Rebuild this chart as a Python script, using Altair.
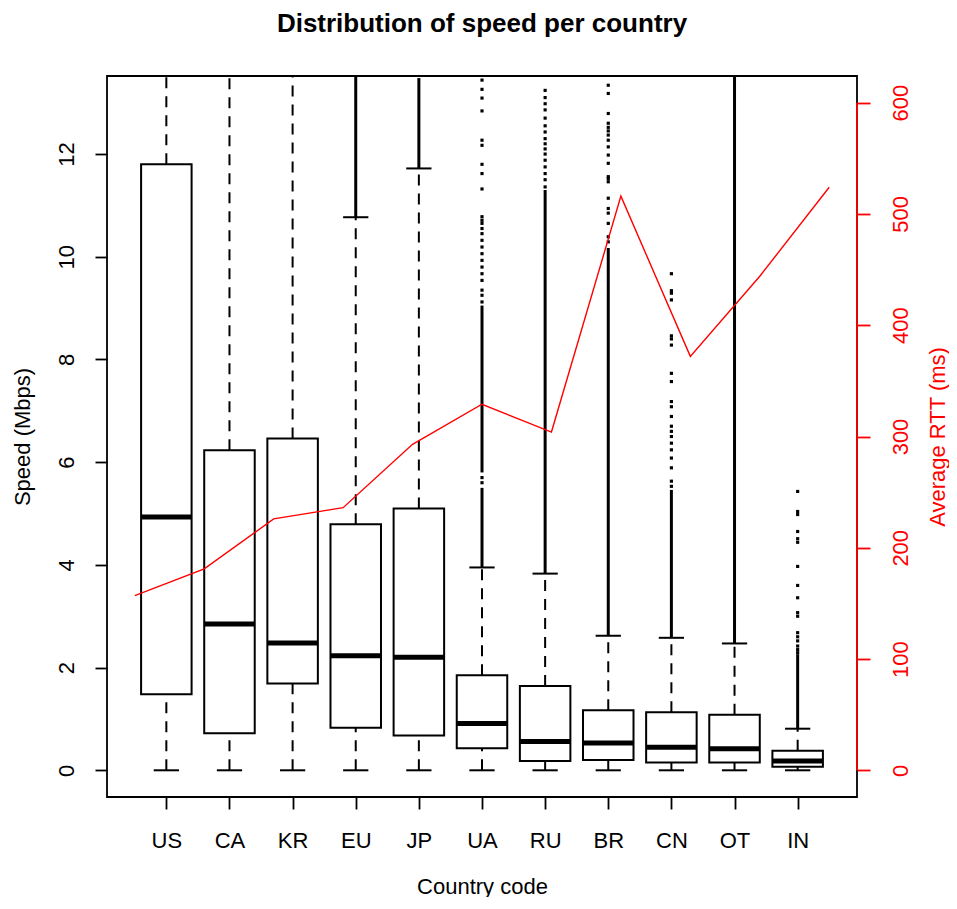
import json
import altair as alt
import pandas as pd

# ---------------- data ----------------
countries = ["US", "CA", "KR", "EU", "JP", "UA", "RU", "BR", "CN", "OT", "IN"]
whisker_low = [0, 0, 0, 0, 0, 0, 0, 0, 0, 0, 0]
q1 = [1.48, 0.72, 1.69, 0.83, 0.68, 0.43, 0.18, 0.20, 0.15, 0.15, 0.07]
median = [4.93, 2.85, 2.48, 2.23, 2.20, 0.91, 0.56, 0.53, 0.45, 0.42, 0.18]
q3 = [11.80, 6.23, 6.46, 4.79, 5.10, 1.85, 1.64, 1.17, 1.13, 1.08, 0.38]
whisker_high = [14.5, 14.5, 14.5, 10.77, 11.72, 3.95, 3.83, 2.62, 2.58, 2.47, 0.81]

rtt_ms = [157, 181, 226, 236, 293, 329, 304, 516, 372, 444, 524]

# dense runs of outliers (drawn as solid columns in the picture)
band_country = ["EU", "JP", "UA", "UA", "RU", "BR", "CN", "OT", "IN"]
band_from = [10.77, 11.72, 3.95, 5.80, 3.83, 2.62, 2.58, 2.47, 0.81]
band_to = [14.5, 13.48, 5.50, 9.05, 11.30, 10.17, 5.46, 14.5, 2.26]

# individual, separated outliers
out_UA = [5.60, 5.70, 9.12, 9.25, 9.35, 9.54, 9.67, 9.80, 9.93, 10.06, 10.19, 10.32,
          10.45, 10.55, 10.65, 10.71, 10.78, 11.32, 11.62, 11.80, 12.17, 12.27, 12.84,
          13.09, 13.26, 13.44]
out_RU = [11.36, 11.50, 11.62, 11.75, 11.88, 12.00, 12.10, 12.20, 12.30, 12.43, 12.55,
          12.70, 12.86, 12.98, 13.10, 13.24]
out_BR = [10.29, 10.39, 10.65, 10.85, 10.94, 11.14, 11.46, 11.52, 11.56, 11.82, 11.98,
          12.14, 12.27, 12.37, 12.45, 12.52, 12.60, 12.79, 13.18, 13.34]
out_CN = [9.67, 9.34, 9.29, 9.16, 8.46, 8.40, 8.28, 7.73, 7.57, 7.18, 7.08, 6.89, 6.70,
          6.60, 6.50, 6.37, 6.24, 6.08, 5.89, 5.63, 5.53]
out_IN = [5.43, 5.04, 4.98, 4.65, 4.51, 4.44, 3.97, 3.60, 3.36, 3.07, 3.00, 2.68, 2.60,
          2.52, 2.42, 2.35, 2.29]

speed_ticks = [0, 2, 4, 6, 8, 10, 12]
rtt_ticks = [0, 100, 200, 300, 400, 500, 600]

# ---------------- tables ----------------
positions = list(range(1, len(countries) + 1))
box_df = pd.DataFrame({"country": countries, "pos": positions, "low": whisker_low,
                       "q1": q1, "median": median, "q3": q3, "high": whisker_high})
band_df = pd.DataFrame({"country": band_country, "lo": band_from, "hi": band_to})
band_df["pos"] = band_df["country"].map(lambda c: countries.index(c) + 1)
out_rows = []
for c, vals in [("UA", out_UA), ("RU", out_RU), ("BR", out_BR), ("CN", out_CN), ("IN", out_IN)]:
    for v in vals:
        out_rows.append({"country": c, "pos": countries.index(c) + 1, "v": v})
out_df = pd.DataFrame(out_rows)
rtt_df = pd.DataFrame({"country": countries, "pos": positions, "rtt": rtt_ms})
raxis_df = pd.DataFrame({"lo": [rtt_ticks[0]], "hi": [rtt_ticks[-1]]})

FONT = "Liberation Sans"
W, H = 750, 721

xs = alt.Scale(domain=[0.06, 11.94], nice=False, zero=False)
ys = alt.Scale(domain=[-0.52, 13.52], nice=False, zero=False)

label_expr = json.dumps(countries) + "[datum.value - 1]"

x_axis = alt.Axis(values=positions, labelExpr=label_expr, title="Country code",
                  domain=False, grid=False, ticks=True, tickSize=12, tickWidth=1.8,
                  tickColor="black", labelFontSize=22, labelFont=FONT, labelColor="black",
                  labelPadding=21, labelFlush=False, labelOverlap=False, labelAngle=0,
                  titleFontSize=22, titleFont=FONT, titleFontWeight="normal",
                  titleColor="black", titleX=W / 2, titleY=96, titleAlign="center",
                  titleBaseline="alphabetic")
y_axis = alt.Axis(values=speed_ticks, title="Speed (Mbps)", domain=False, grid=False,
                  tickSize=12, tickWidth=1.8, tickColor="black", labelFontSize=22,
                  labelFont=FONT, labelColor="black", labelAngle=270, labelAlign="center",
                  labelBaseline="bottom", labelPadding=17, labelOverlap=False,
                  labelFlush=False, titleFontSize=22, titleFont=FONT,
                  titleFontWeight="normal", titleColor="black", titleAngle=270,
                  titleX=-85, titleY=H / 2, titleAlign="center", titleBaseline="middle")

base = alt.Chart(box_df).transform_calculate(
    xl="datum.pos - 0.4", xr="datum.pos + 0.4",
    cl="datum.pos - 0.2", cr="datum.pos + 0.2")

dash = [11, 8]
upper_whisker = base.mark_rule(color="black", strokeWidth=2, strokeDash=dash, clip=True).encode(
    x=alt.X("pos:Q", scale=xs, axis=x_axis),
    y=alt.Y("q3:Q", scale=ys, axis=y_axis), y2="high:Q")
lower_whisker = base.mark_rule(color="black", strokeWidth=2, strokeDash=dash, clip=True).encode(
    x=alt.X("pos:Q", scale=xs, axis=x_axis),
    y=alt.Y("low:Q", scale=ys, axis=y_axis), y2="q1:Q")
bands = alt.Chart(band_df).mark_rule(color="black", strokeWidth=3, clip=True).encode(
    x=alt.X("pos:Q", scale=xs, axis=x_axis),
    y=alt.Y("lo:Q", scale=ys, axis=y_axis), y2="hi:Q")
points = alt.Chart(out_df).mark_square(size=10, color="black", opacity=1, clip=True).encode(
    x=alt.X("pos:Q", scale=xs, axis=x_axis),
    y=alt.Y("v:Q", scale=ys, axis=y_axis))
cap_high = base.mark_rule(color="black", strokeWidth=2, clip=True).encode(
    x=alt.X("cl:Q", scale=xs, axis=x_axis), x2="cr:Q",
    y=alt.Y("high:Q", scale=ys, axis=y_axis))
cap_low = base.mark_rule(color="black", strokeWidth=2, clip=True).encode(
    x=alt.X("cl:Q", scale=xs, axis=x_axis), x2="cr:Q",
    y=alt.Y("low:Q", scale=ys, axis=y_axis))
boxes = base.mark_rect(fill="white", stroke="black", strokeWidth=2, clip=True).encode(
    x=alt.X("xl:Q", scale=xs, axis=x_axis), x2="xr:Q",
    y=alt.Y("q1:Q", scale=ys, axis=y_axis), y2="q3:Q")
medians = base.mark_rule(color="black", strokeWidth=5, clip=True).encode(
    x=alt.X("xl:Q", scale=xs, axis=x_axis), x2="xr:Q",
    y=alt.Y("median:Q", scale=ys, axis=y_axis))

left = alt.layer(upper_whisker, lower_whisker, bands, points, cap_high, cap_low, boxes, medians)

rx = alt.Scale(domain=[0.6, 11.4], nice=False, zero=False)
ry = alt.Scale(domain=[-24, 624], nice=False, zero=False)
r_axis = alt.Axis(values=rtt_ticks, orient="right", title="Average RTT (ms)", domain=False,
                  grid=False, tickSize=13, tickWidth=1.8, tickColor="red",
                  labelFontSize=22, labelFont=FONT, labelColor="red", labelAngle=270,
                  labelAlign="center", labelBaseline="top", labelPadding=20,
                  labelOverlap=False, labelFlush=False, titleFontSize=22, titleFont=FONT,
                  titleFontWeight="normal", titleColor="red", titleAngle=270,
                  titleX=80, titleY=H / 2, titleAlign="center", titleBaseline="middle")

rtt_line = alt.Chart(rtt_df).mark_line(color="red", strokeWidth=1.4).encode(
    x=alt.X("pos:Q", scale=rx, axis=None),
    y=alt.Y("rtt:Q", scale=ry, axis=r_axis))
r_axis_line = alt.Chart(raxis_df).mark_rule(color="red", strokeWidth=1.8).encode(
    x=alt.value(W),
    y=alt.Y("lo:Q", scale=ry, axis=r_axis), y2="hi:Q")
right = alt.layer(rtt_line, r_axis_line)

chart = alt.layer(left, right).resolve_scale(
    x="independent", y="independent"
).properties(
    width=W, height=H,
    background="white",
    title=alt.Title("Distribution of speed per country", font=FONT, fontSize=26,
                    fontWeight="bold", color="black", anchor="middle", offset=39),
    autosize=alt.AutoSizeParams(type="none"),
    padding={"left": 99, "top": 68, "right": 92, "bottom": 100},
).configure_view(stroke="black", strokeWidth=1.8)

chart.save("out.html", embed_options={"renderer": "svg", "actions": False})
